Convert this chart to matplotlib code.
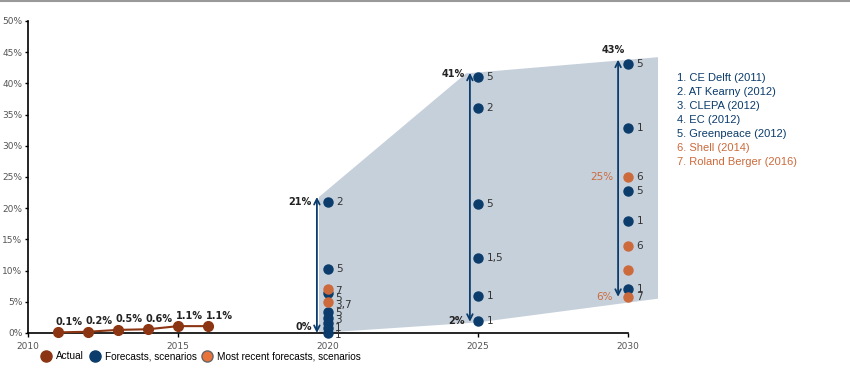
import matplotlib.pyplot as plt
from matplotlib.lines import Line2D

# couleurs
dark = '#0b3c6b'
orange = '#cc6a3c'
brown = '#8c3512'
shade = '#c6d0db'

# données réelles
years_actual = [2011, 2012, 2013, 2014, 2015, 2016]
actual = [0.1, 0.2, 0.5, 0.6, 1.1, 1.1]
actual_labels = ['0.1%', '0.2%', '0.5%', '0.6%', '1.1%', '1.1%']

# prévisions 2020
f2020_dark = [21, 10.3, 6.4, 3.4, 2.4, 1.6, 0.8, 0]
f2020_dark_lab = ['2', '5', '', '', '', '', '', '']
f2020_rec = [7.0, 5.0]
f2020_stack_lab = ['7', '5', '3,7', '5', '3', '1', '1']

# prévisions 2025
f2025_dark = [41, 36, 20.7, 12, 6, 2]
f2025_dark_lab = ['5', '2', '5', '1,5', '1', '1']

# prévisions 2030
f2030_dark = [43.1, 32.9, 22.8, 18, 7]
f2030_dark_lab = ['5', '1', '5', '1', '']
f2030_rec = [25, 13.9, 10.1, 5.8]
f2030_rec_lab = ['6', '6', '', '']
f2030_stack_lab = ['1', '7']

# zone grisée
band_x = [2019.7, 2024.6, 2031, 2031, 2025, 2019.7]
band_y = [21.8, 41.6, 44.2, 5.5, 1.7, 0]

# fourchettes (flèches)
range_x = [2019.63, 2024.73, 2029.67]
range_lo = [0, 1.8, 5.8]
range_hi = [21.8, 41.7, 43.8]

sources = ['1. CE Delft (2011)', '2. AT Kearny (2012)', '3. CLEPA (2012)', '4. EC (2012)',
           '5. Greenpeace (2012)', '6. Shell (2014)', '7. Roland Berger (2016)']
source_colors = [dark] * 5 + [orange] * 2

fig = plt.figure(figsize=(8.5, 3.83), dpi=100)
ax = fig.add_axes([28 / 850, 50 / 383, 645 / 850, 312 / 383])
ax.set_xlim(2010, 2031.5)
ax.set_ylim(0, 50)

ax.fill(band_x, band_y, color=shade, zorder=0, lw=0)

for x, lo, hi in zip(range_x, range_lo, range_hi):
    ax.annotate('', xy=(x, hi), xytext=(x, lo),
                arrowprops=dict(arrowstyle='<->', color=dark, lw=1.3,
                                shrinkA=0, shrinkB=0, mutation_scale=10))

ax.plot(years_actual, actual, color=brown, lw=1.5, marker='o', ms=7, zorder=3, clip_on=False)
for x, y, t in zip(years_actual, actual, actual_labels):
    ax.annotate(t, (x, y), xytext=(8, 4), textcoords='offset points',
                ha='center', va='bottom', fontsize=7, fontweight='bold', color='#222222')


def points(year, vals, labs, color):
    ax.plot([year] * len(vals), vals, 'o', color=color, ms=6.5, zorder=4, clip_on=False)
    for v, t in zip(vals, labs):
        if t:
            ax.annotate(t, (year, v), xytext=(6, 0), textcoords='offset points',
                        ha='left', va='center', fontsize=7.5, color='#333333')


points(2020, f2020_dark, f2020_dark_lab, dark)
points(2020, f2020_rec, ['', ''], orange)
points(2025, f2025_dark, f2025_dark_lab, dark)
points(2030, f2030_dark, f2030_dark_lab, dark)
points(2030, f2030_rec, f2030_rec_lab, orange)

# étiquettes serrées
ax.annotate('\n'.join(f2020_stack_lab), (2020, 7.6), xytext=(5, 0), textcoords='offset points',
            ha='left', va='top', fontsize=7.5, color='#333333', linespacing=0.68)
ax.annotate('\n'.join(f2030_stack_lab), (2030, 6.4), xytext=(6, 0), textcoords='offset points',
            ha='left', va='center', fontsize=7.5, color='#333333', linespacing=0.8)

# étiquettes des fourchettes
ax.text(2019.45, 21, '21%', ha='right', va='center', fontsize=7, fontweight='bold', color='#222222')
ax.text(2019.45, 1, '0%', ha='right', va='center', fontsize=7, fontweight='bold', color='#222222')
ax.text(2024.55, 41.5, '41%', ha='right', va='center', fontsize=7, fontweight='bold', color='#222222')
ax.text(2024.55, 2, '2%', ha='right', va='center', fontsize=7, fontweight='bold', color='#222222')
ax.text(2029.5, 44.6, '43%', ha='center', va='bottom', fontsize=7, fontweight='bold', color='#222222')
ax.text(2029.5, 25, '25%', ha='right', va='center', fontsize=7.5, color=orange)
ax.text(2029.5, 5.8, '6%', ha='right', va='center', fontsize=7.5, color=orange)

ax.spines['top'].set_visible(False)
ax.spines['right'].set_visible(False)
ax.spines['bottom'].set_bounds(2010, 2030)
ax.spines['left'].set_linewidth(1.2)
ax.spines['bottom'].set_linewidth(1.2)
ax.set_xticks([2010, 2015, 2020, 2025, 2030])
ax.set_yticks(range(0, 51, 5))
ax.set_yticklabels([f'{v}%' for v in range(0, 51, 5)])
ax.tick_params(labelsize=6.5, labelcolor='#555555', length=3, width=1)
ax.tick_params(axis='y', pad=1.5, length=2.5)

# légende du bas
handles = [Line2D([], [], marker='o', ls='', color=brown, ms=8),
           Line2D([], [], marker='o', ls='', color=dark, ms=8),
           Line2D([], [], marker='o', ls='', color='#e8743b', ms=8, markeredgecolor='#666666')]
leg = ax.legend(handles, ['Actual', 'Forecasts, scenarios', 'Most recent forecasts, scenarios'],
                loc='center left', bbox_to_anchor=(0.012, -0.075), ncol=3, frameon=False,
                prop={'family': 'Liberation Sans', 'size': 7.2},
                handletextpad=0.4, columnspacing=0.5, handlelength=1.2, borderaxespad=0)

# liste des sources
for i, (s, c) in enumerate(zip(sources, source_colors)):
    fig.text(677 / 850, 1 - (78 + 14 * i) / 383, s, color=c, fontsize=8, va='center', ha='left',
             family='Liberation Sans')

fig.add_artist(Line2D([0, 1], [1 - 1 / 383] * 2, color='#999999', lw=1.5))

fig.savefig('out.png', dpi=100)
